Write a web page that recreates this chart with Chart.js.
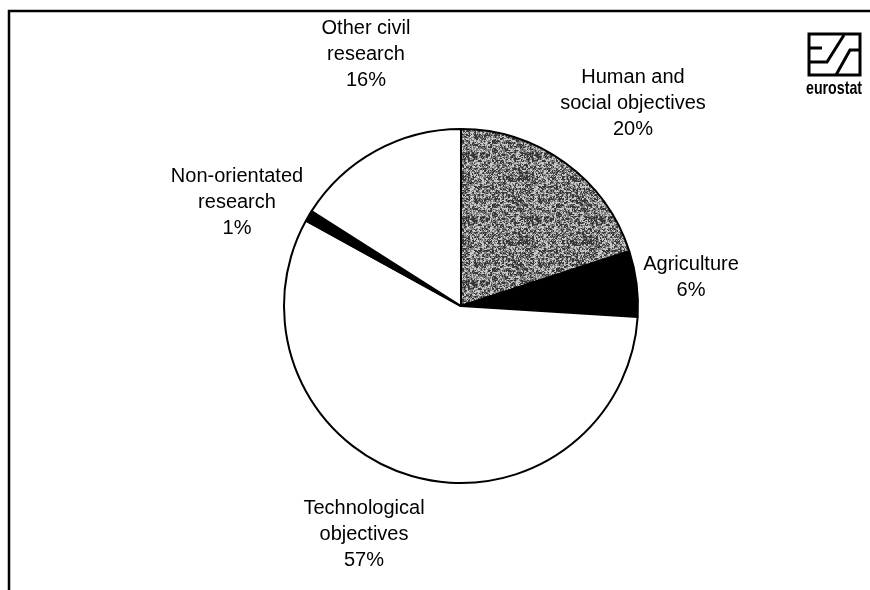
<!DOCTYPE html>
<html>
<head>
<meta charset="utf-8">
<script src="https://cdn.jsdelivr.net/npm/chart.js@4"></script>
<style>
html,body{margin:0;padding:0;background:#fff;}
#wrap{width:870px;height:590px;position:relative;}
</style>
</head>
<body>
<div id="wrap"><canvas id="c" width="870" height="590"></canvas></div>
<script>
// ---- data ----
const categories = ["Human and social objectives", "Agriculture", "Technological objectives", "Non-orientated research", "Other civil research"];
const shares = [20, 6, 57, 1, 16];
const labelLines = [
  ["Human and", "social objectives", "20%"],
  ["Agriculture", "6%"],
  ["Technological", "objectives", "57%"],
  ["Non-orientated", "research", "1%"],
  ["Other civil", "research", "16%"]
];

// ---- label placement (offsets from pie centre, first-line centre) ----
const labelOffsets = [
  [172, -229],
  [230, -42],
  [-97, 202],
  [-224, -130],
  [-95, -278]
];

// stippled grey texture
function makeStipple() {
  const s = 64;
  const pc = document.createElement('canvas');
  pc.width = s; pc.height = s;
  const g = pc.getContext('2d');
  const img = g.createImageData(s, s);
  for (let y = 0; y < s; y++) {
    for (let x = 0; x < s; x++) {
      const bx = Math.floor(x / 2), by = Math.floor(y / 2);
      const h1 = Math.sin(bx * 12.9898 + by * 78.233) * 43758.5453;
      const h2 = Math.sin(x * 39.346 + y * 11.135) * 24634.6345;
      const f = 0.5 * (h1 - Math.floor(h1)) + 0.5 * (h2 - Math.floor(h2));
      const v = f < 0.4 ? 55 : (f < 0.62 ? 125 : 200);
      const i = (y * s + x) * 4;
      img.data[i] = v; img.data[i + 1] = v; img.data[i + 2] = v; img.data[i + 3] = 255;
    }
  }
  g.putImageData(img, 0, 0);
  return g.createPattern(pc, 'repeat');
}

const ctx0 = document.getElementById('c').getContext('2d');
const stipple = makeStipple();

const decor = {
  id: 'decor',
  beforeDraw(chart) {
    const c = chart.ctx;
    c.save();
    c.fillStyle = '#fff';
    c.fillRect(0, 0, chart.width, chart.height);
    c.strokeStyle = '#000';
    c.lineWidth = 2.5;
    c.beginPath();
    c.moveTo(9, 590); c.lineTo(9, 11); c.lineTo(870, 11);
    c.stroke();
    c.restore();
  },
  afterDraw(chart) {
    const c = chart.ctx;
    const meta = chart.getDatasetMeta(0);
    const arc0 = meta.data[0];
    const cx = arc0.x, cy = arc0.y;
    c.save();
    c.fillStyle = '#000';
    c.font = '20px "Liberation Sans", Arial, sans-serif';
    c.textAlign = 'center';
    c.textBaseline = 'middle';
    labelLines.forEach((lines, i) => {
      const [dx, dy] = labelOffsets[i];
      lines.forEach((t, k) => c.fillText(t, cx + dx, cy + dy + k * 26));
    });
    // eurostat logo
    c.strokeStyle = '#000';
    c.lineWidth = 3;
    c.strokeRect(809, 34, 51, 41);
    c.beginPath();
    c.moveTo(809, 48); c.lineTo(822, 48);
    c.moveTo(809, 62); c.lineTo(827, 62); c.lineTo(844, 35);
    c.moveTo(836, 75); c.lineTo(850, 50); c.lineTo(860, 50);
    c.stroke();
    c.font = 'bold 19px "Liberation Sans", Arial, sans-serif';
    c.textAlign = 'left';
    c.textBaseline = 'alphabetic';
    const w = c.measureText('eurostat').width;
    const sx = 56 / w;
    c.translate(806, 94);
    c.scale(sx, 1);
    c.fillText('eurostat', 0, 0);
    c.restore();
  }
};

new Chart(ctx0, {
  type: 'pie',
  data: {
    labels: categories,
    datasets: [{
      data: shares,
      backgroundColor: [stipple, '#000', '#fff', '#000', '#fff'],
      borderColor: '#000',
      borderWidth: 2,
      hoverOffset: 0
    }]
  },
  options: {
    responsive: false,
    devicePixelRatio: 1,
    animation: false,
    layout: { padding: { left: 283, right: 231, top: 128, bottom: 106 } },
    plugins: { legend: { display: false }, tooltip: { enabled: false }, title: { display: false } }
  },
  plugins: [decor]
});
</script>
</body>
</html>
